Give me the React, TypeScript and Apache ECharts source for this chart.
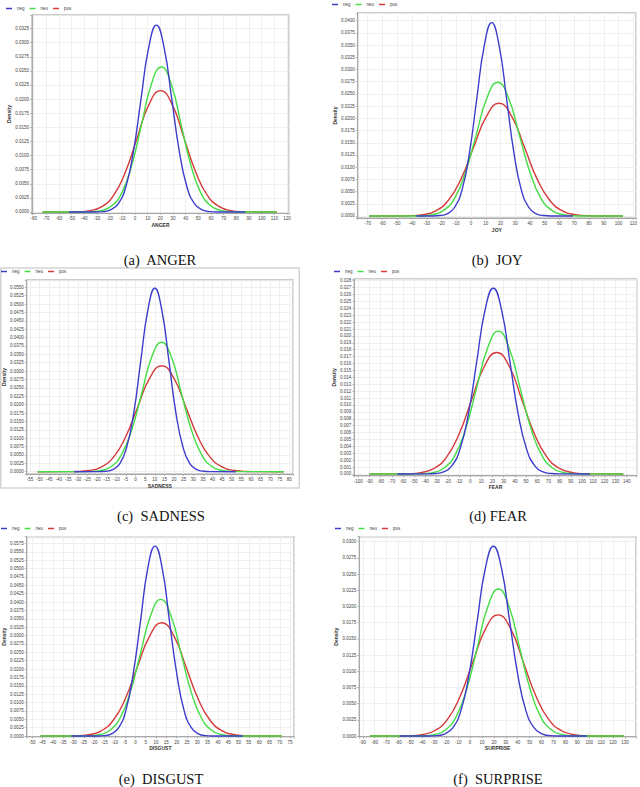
import React, { useEffect, useRef } from "react";
import * as echarts from "echarts";

type Pt = [number, number];

const seriesNames = ["neg", "neu", "pos"];
const axisTitles = ["ANGER", "JOY", "SADNESS", "FEAR", "DISGUST", "SURPRISE"];
const captions = [
  "(a)\u00a0 ANGER",
  "(b)\u00a0 JOY",
  "(c)\u00a0 SADNESS",
  "(d) FEAR",
  "(e)\u00a0 DISGUST",
  "(f)\u00a0 SURPRISE",
];
const yTitle = "Density";

// ---- ANGER ----
const angerNeg: Pt[] = [[-52,0],[-31.3,0.00001],[-25.3,0.00007],[-19.3,0.00037],[-13.3,0.00145],[-7.2,0.00448],[-1.2,0.01075],[4.8,0.02008],[10.9,0.02921],[16.9,0.0331],[22.9,0.02921],[29.0,0.02008],[35.0,0.01075],[41.0,0.00448],[47.1,0.00145],[53.1,0.00037],[59.1,0.00007],[65.1,0.00001],[87,0]];
const angerNeu: Pt[] = [[-73,0],[-41.3,0.00001],[-33.5,0.00006],[-25.8,0.00029],[-18.0,0.00113],[-10.2,0.00348],[-2.5,0.00834],[5.3,0.01559],[13.0,0.02268],[20.8,0.0257],[28.6,0.02268],[36.3,0.01559],[44.1,0.00834],[51.8,0.00348],[59.6,0.00113],[67.4,0.00029],[75.1,0.00006],[82.9,0.00001],[112,0]];
const angerPos: Pt[] = [[-73,0],[-54.1,0.00001],[-44.8,0.00005],[-35.5,0.00024],[-26.2,0.00094],[-17.0,0.00291],[-7.7,0.00698],[1.6,0.01304],[10.9,0.01897],[20.2,0.0215],[29.5,0.01897],[38.8,0.01304],[48.1,0.00698],[57.3,0.00291],[66.6,0.00094],[75.9,0.00024],[85.2,0.00005],[94.5,0.00001],[112,0]];

// ---- JOY ----
const joyNeg: Pt[] = [[-37,0],[-26.3,0.00001],[-21.2,0.00009],[-16.2,0.00044],[-11.2,0.00174],[-6.1,0.00536],[-1.1,0.01286],[3.9,0.02402],[9.0,0.03495],[14.0,0.0396],[19.0,0.03495],[24.1,0.02402],[29.1,0.01286],[34.1,0.00536],[39.2,0.00174],[44.2,0.00044],[49.2,0.00009],[54.3,0.00001],[69,0]];
const joyNeu: Pt[] = [[-69,0],[-40.2,0.00001],[-32.9,0.00006],[-25.6,0.0003],[-18.3,0.0012],[-11.0,0.00371],[-3.8,0.0089],[3.5,0.01662],[10.8,0.02418],[18.1,0.0274],[25.4,0.02418],[32.7,0.01662],[40.0,0.0089],[47.2,0.00371],[54.5,0.0012],[61.8,0.0003],[69.1,0.00006],[76.4,0.00001],[103,0]];
const joyPos: Pt[] = [[-69,0],[-50.1,0.00001],[-41.5,0.00005],[-32.8,0.00026],[-24.2,0.00101],[-15.6,0.00313],[-6.9,0.0075],[1.7,0.01401],[10.4,0.02039],[19.0,0.0231],[27.6,0.02039],[36.3,0.01401],[44.9,0.0075],[53.6,0.00313],[62.2,0.00101],[70.8,0.00026],[79.5,0.00005],[88.1,0.00001],[103,0]];

// ---- SADNESS ----
const sadNeg: Pt[] = [[-32,0],[-19.2,0.00002],[-15.5,0.00012],[-11.9,0.00061],[-8.2,0.0024],[-4.6,0.0074],[-0.9,0.01776],[2.7,0.03318],[6.4,0.04827],[10.0,0.0547],[13.6,0.04827],[17.3,0.03318],[20.9,0.01776],[24.6,0.0074],[28.2,0.0024],[31.9,0.00061],[35.5,0.00012],[39.2,0.00002],[52,0]];
const sadNeu: Pt[] = [[-51,0],[-27.8,0.00001],[-22.7,0.00008],[-17.5,0.00043],[-12.3,0.00169],[-7.2,0.00522],[-2.0,0.01253],[3.2,0.02341],[8.3,0.03406],[13.5,0.0386],[18.7,0.03406],[23.8,0.02341],[29.0,0.01253],[34.2,0.00522],[39.3,0.00169],[44.5,0.00043],[49.7,0.00008],[54.8,0.00001],[77,0]];
const sadPos: Pt[] = [[-51,0],[-36.9,0.00001],[-30.6,0.00007],[-24.3,0.00035],[-18.0,0.00139],[-11.6,0.00428],[-5.3,0.01026],[1.0,0.01917],[7.3,0.02789],[13.6,0.0316],[19.9,0.02789],[26.2,0.01917],[32.5,0.01026],[38.8,0.00428],[45.2,0.00139],[51.5,0.00035],[57.8,0.00007],[64.1,0.00001],[77,0]];

// ---- FEAR ----
const fearNeg: Pt[] = [[-65,0],[-38.6,0.00001],[-31.2,0.00006],[-23.8,0.0003],[-16.4,0.00118],[-9.0,0.00364],[-1.5,0.00873],[5.9,0.01631],[13.3,0.02374],[20.7,0.0269],[28.1,0.02374],[35.5,0.01631],[42.9,0.00873],[50.4,0.00364],[57.8,0.00118],[65.2,0.0003],[72.6,0.00006],[80.0,0.00001],[107,0]];
const fearNeu: Pt[] = [[-90,0],[-51.9,0.00001],[-42.2,0.00005],[-32.6,0.00023],[-23.0,0.00091],[-13.3,0.0028],[-3.7,0.00672],[5.9,0.01255],[15.6,0.01827],[25.2,0.0207],[34.8,0.01827],[44.5,0.01255],[54.1,0.00672],[63.7,0.0028],[73.4,0.00091],[83.0,0.00023],[92.6,0.00005],[102.3,0.00001],[137,0]];
const fearPos: Pt[] = [[-90,0],[-66.6,0.00001],[-55.3,0.00004],[-44.0,0.0002],[-32.7,0.00077],[-21.4,0.00238],[-10.1,0.00571],[1.2,0.01067],[12.5,0.01553],[23.8,0.0176],[35.1,0.01553],[46.4,0.01067],[57.7,0.00571],[69.0,0.00238],[80.3,0.00077],[91.6,0.0002],[102.9,0.00004],[114.2,0.00001],[137,0]];

// ---- DISGUST ----
const disNeg: Pt[] = [[-31,0],[-18.7,0.00002],[-15.1,0.00012],[-11.6,0.00063],[-8.1,0.00249],[-4.6,0.00767],[-1.1,0.01841],[2.5,0.03439],[6.0,0.05004],[9.5,0.0567],[13.0,0.05004],[16.5,0.03439],[20.1,0.01841],[23.6,0.00767],[27.1,0.00249],[30.6,0.00063],[34.1,0.00012],[37.7,0.00002],[52,0]];
const disNeu: Pt[] = [[-46,0],[-26.8,0.00001],[-21.9,0.00009],[-17.0,0.00045],[-12.2,0.00179],[-7.3,0.00552],[-2.4,0.01325],[2.5,0.02475],[7.4,0.03601],[12.3,0.0408],[17.2,0.03601],[22.1,0.02475],[27.0,0.01325],[31.9,0.00552],[36.8,0.00179],[41.6,0.00045],[46.5,0.00009],[51.4,0.00001],[71,0]];
const disPos: Pt[] = [[-46,0],[-34.5,0.00001],[-28.5,0.00007],[-22.6,0.00038],[-16.8,0.00148],[-10.9,0.00457],[-5.0,0.01097],[0.9,0.0205],[6.9,0.02983],[12.8,0.0338],[18.7,0.02983],[24.6,0.0205],[30.5,0.01097],[36.4,0.00457],[42.3,0.00148],[48.2,0.00038],[54.1,0.00007],[60.0,0.00001],[71,0]];

// ---- SURPRISE ----
const surNeg: Pt[] = [[-59,0],[-34.8,0.00001],[-28.0,0.00006],[-21.2,0.00033],[-14.4,0.00129],[-7.6,0.00396],[-0.8,0.00951],[6.0,0.01777],[12.8,0.02586],[19.6,0.0293],[26.4,0.02586],[33.2,0.01777],[40.0,0.00951],[46.8,0.00396],[53.6,0.00129],[60.4,0.00033],[67.2,0.00006],[74.0,0.00001],[98,0]];
const surNeu: Pt[] = [[-84,0],[-46.6,0.00001],[-37.8,0.00005],[-29.0,0.00025],[-20.2,0.001],[-11.4,0.00307],[-2.6,0.00737],[6.2,0.01377],[15.0,0.02003],[23.8,0.0227],[32.6,0.02003],[41.4,0.01377],[50.2,0.00737],[59.0,0.00307],[67.8,0.001],[76.6,0.00025],[85.4,0.00005],[94.2,0.00001],[129,0]];
const surPos: Pt[] = [[-84,0],[-61.7,0.00001],[-51.1,0.00004],[-40.4,0.00021],[-29.8,0.00082],[-19.1,0.00253],[-8.5,0.00607],[2.2,0.01134],[12.9,0.0165],[23.5,0.0187],[34.2,0.0165],[44.8,0.01134],[55.5,0.00607],[66.1,0.00253],[76.8,0.00082],[87.4,0.00021],[98.1,0.00004],[108.7,0.00001],[129,0]];

const panelSeries: Pt[][][] = [
  [angerNeg, angerNeu, angerPos],
  [joyNeg, joyNeu, joyPos],
  [sadNeg, sadNeu, sadPos],
  [fearNeg, fearNeu, fearPos],
  [disNeg, disNeu, disPos],
  [surNeg, surNeu, surPos],
];

// axis extents / tick steps per panel: [xmin, xmax, xstep], [ymin, ymax, ystep, decimals]
const xScales = [
  [-81.3, 121.6, 10],
  [-76.8, 111.8, 10],
  [-56.7, 81.9, 5],
  [-103.6, 148.9, 10],
  [-52.7, 76.9, 5],
  [-92.9, 139.2, 10],
];
const yScales = [
  [-0.00018, 0.0349, 0.0025, 4],
  [-0.00041, 0.04158, 0.0025, 4],
  [-0.00069, 0.05718, 0.0025, 4],
  [-0.00025, 0.02825, 0.001, 3],
  [-0.0002, 0.0595, 0.0025, 4],
  [-0.0001, 0.03077, 0.0025, 4],
];

// ---- layout (pixels) ----
const boxes = [
  [32, 15, 289, 213],
  [357.7, 13, 636, 218],
  [25, 280, 293, 474],
  [354.3, 279, 636.7, 475.7],
  [26.7, 536.7, 294, 736.7],
  [359.3, 536.7, 636, 736.7],
];
const legendPos = [
  [6, 6],
  [332, 2],
  [1, 269],
  [334, 269],
  [1, 526],
  [335, 526],
];
const captionPos = [
  [160, 260],
  [497, 260],
  [161, 516],
  [498, 516],
  [161, 779],
  [498, 779],
];
const colors = ["#3d3dcc", "#44dd44", "#d43a3a"];
const sans = "'Liberation Sans', Arial, sans-serif";

function onTick(v: number, step: number) {
  const r = v / step;
  return Math.abs(r - Math.round(r)) < 1e-4;
}

function buildOption() {
  const grid = boxes.map((b) => ({
    left: b[0],
    top: b[1],
    width: b[2] - b[0],
    height: b[3] - b[1],
    show: true,
    backgroundColor: "#ffffff",
    borderColor: "#bdbdbd",
    borderWidth: 1.5,
  }));
  const xAxis = xScales.map((s, i) => ({
    type: "value",
    gridIndex: i,
    min: s[0],
    max: s[1],
    minInterval: s[2],
    maxInterval: s[2],
    splitNumber: Math.round((s[1] - s[0]) / s[2]),
    name: axisTitles[i],
    nameLocation: "middle",
    nameGap: 9,
    nameTextStyle: { fontSize: 5, fontWeight: "bold", color: "#333", fontFamily: sans },
    axisLine: { show: true, onZero: false, lineStyle: { color: "#999", width: 0.8 } },
    axisTick: { show: true, length: 2, lineStyle: { color: "#999", width: 0.6 } },
    axisLabel: {
      fontSize: 4.5,
      color: "#444",
      margin: 3,
      fontFamily: sans,
      showMinLabel: true,
      showMaxLabel: true,
      formatter: (v: number) => (onTick(v, s[2]) ? String(Math.round(v)) : ""),
    },
    splitLine: { show: true, lineStyle: { color: "#ececec", width: 0.8 } },
  }));
  const yAxis = yScales.map((s, i) => ({
    type: "value",
    gridIndex: i,
    min: s[0],
    max: s[1],
    minInterval: s[2],
    maxInterval: s[2],
    splitNumber: Math.round((s[1] - s[0]) / s[2]),
    name: yTitle,
    nameLocation: "middle",
    nameRotate: 90,
    nameGap: 16,
    nameTextStyle: { fontSize: 5, fontWeight: "bold", color: "#333", fontFamily: sans },
    axisLine: { show: true, onZero: false, lineStyle: { color: "#999", width: 0.8 } },
    axisTick: { show: true, length: 2, lineStyle: { color: "#999", width: 0.6 } },
    axisLabel: {
      fontSize: 4.5,
      color: "#444",
      margin: 3,
      fontFamily: sans,
      showMinLabel: true,
      showMaxLabel: true,
      formatter: (v: number) => (onTick(v, s[2]) ? Math.abs(v).toFixed(s[3]) : ""),
    },
    splitLine: { show: true, lineStyle: { color: "#ececec", width: 0.8 } },
  }));
  const legend = legendPos.map((p) => ({
    left: p[0],
    top: p[1],
    padding: 0,
    data: seriesNames,
    icon: "rect",
    itemWidth: 6,
    itemHeight: 1.5,
    itemGap: 5,
    selectedMode: false,
    textStyle: { fontSize: 4.5, color: "#444", fontFamily: sans },
  }));
  const series: any[] = [];
  panelSeries.forEach((group, i) => {
    [2, 1, 0].forEach((k) => {
      series.push({
        type: "line",
        name: seriesNames[k],
        xAxisIndex: i,
        yAxisIndex: i,
        data: group[k],
        showSymbol: false,
        symbol: "none",
        smooth: 0.5,
        silent: true,
        lineStyle: { color: colors[k], width: 1.4 },
        itemStyle: { color: colors[k] },
      });
    });
  });
  const graphic: any[] = captions.map((c, i) => ({
    type: "text",
    x: captionPos[i][0],
    y: captionPos[i][1],
    style: {
      text: c,
      fontSize: 14.5,
      fontFamily: "'Liberation Serif', 'Times New Roman', serif",
      fill: "#111",
      align: "center",
      verticalAlign: "middle",
    },
  }));
  graphic.push({
    type: "rect",
    shape: { x: 0.75, y: 268, width: 298.5, height: 220 },
    style: { fill: "none", stroke: "#d4d4d4", lineWidth: 1.5 },
    z: -1,
  });
  return {
    animation: false,
    backgroundColor: "#ffffff",
    grid,
    xAxis,
    yAxis,
    legend,
    series,
    graphic,
  };
}

export default function App() {
  const ref = useRef<HTMLDivElement>(null);
  useEffect(() => {
    if (!ref.current) return;
    const chart = echarts.init(ref.current, null, { renderer: "svg" });
    chart.setOption(buildOption() as any);
    return () => chart.dispose();
  }, []);
  return (
    <div
      ref={ref}
      style={{ position: "absolute", left: 0, top: 0, width: 640, height: 787, background: "#fff" }}
    />
  );
}
